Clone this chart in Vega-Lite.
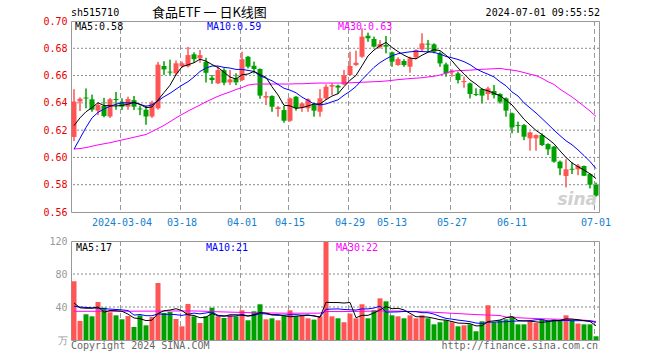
{
"$schema": "https://vega.github.io/schema/vega-lite/v6.json",
"background": "white",
"padding": {"left": 40, "top": 6, "right": 10, "bottom": 4},
"spacing": 7,
"config": {"view": {"stroke": "#999999", "strokeWidth": 1}, "text": {"font": "DejaVu Sans Mono"}},
"datasets": {"k": [
{"d":"2024-02-21","o":0.615,"h":0.650,"l":0.612,"c":0.641,"v":71.2,"m5":0.6233,"m10":0.606,"m30":0.6062,"a5":44.9,"a10":41,"a30":34.8},
{"d":"2024-02-22","o":0.641,"h":0.644,"l":0.634,"c":0.643,"v":23.1,"m5":0.629,"m10":0.614,"m30":0.6065,"a5":39,"a10":40,"a30":34.8},
{"d":"2024-02-23","o":0.6439,"h":0.6505,"l":0.636,"c":0.6432,"v":31.2,"m5":0.6335,"m10":0.622,"m30":0.6072,"a5":38.5,"a10":39.5,"a30":34.8},
{"d":"2024-02-26","o":0.6426,"h":0.646,"l":0.6335,"c":0.635,"v":28.7,"m5":0.6365,"m10":0.629,"m30":0.6082,"a5":38.5,"a10":39,"a30":34.8},
{"d":"2024-02-27","o":0.6343,"h":0.6397,"l":0.631,"c":0.6384,"v":46.1,"m5":0.6401,"m10":0.633,"m30":0.6092,"a5":40.1,"a10":38.5,"a30":34.8},
{"d":"2024-02-28","o":0.6377,"h":0.6436,"l":0.6294,"c":0.6304,"v":39.2,"m5":0.638,"m10":0.6355,"m30":0.610,"a5":33.7,"a10":38,"a30":34.8},
{"d":"2024-02-29","o":0.630,"h":0.6435,"l":0.629,"c":0.6426,"v":33.6,"m5":0.6379,"m10":0.6375,"m30":0.6108,"a5":35.8,"a10":37.5,"a30":34.8},
{"d":"2024-03-01","o":0.6428,"h":0.648,"l":0.635,"c":0.642,"v":29.9,"m5":0.6377,"m10":0.639,"m30":0.6118,"a5":35.5,"a10":37,"a30":34.8},
{"d":"2024-03-04","o":0.6408,"h":0.6433,"l":0.6348,"c":0.6372,"v":25.1,"m5":0.6381,"m10":0.640,"m30":0.6128,"a5":34.8,"a10":36.5,"a30":34.8},
{"d":"2024-03-05","o":0.6372,"h":0.6445,"l":0.635,"c":0.6428,"v":29,"m5":0.639,"m10":0.640,"m30":0.6138,"a5":31.4,"a10":35.7,"a30":34.9},
{"d":"2024-03-06","o":0.642,"h":0.645,"l":0.6348,"c":0.6372,"v":15.8,"m5":0.6404,"m10":0.640,"m30":0.6148,"a5":26.7,"a10":30.2,"a30":34.9},
{"d":"2024-03-07","o":0.6359,"h":0.638,"l":0.631,"c":0.6352,"v":29.9,"m5":0.6389,"m10":0.639,"m30":0.6158,"a5":25.9,"a10":30.9,"a30":35},
{"d":"2024-03-08","o":0.635,"h":0.638,"l":0.624,"c":0.630,"v":17.8,"m5":0.6365,"m10":0.6375,"m30":0.6168,"a5":23.5,"a10":29.5,"a30":35},
{"d":"2024-03-11","o":0.630,"h":0.6415,"l":0.629,"c":0.640,"v":27.9,"m5":0.637,"m10":0.6385,"m30":0.619,"a5":24.1,"a10":29.4,"a30":35},
{"d":"2024-03-12","o":0.636,"h":0.670,"l":0.635,"c":0.668,"v":69.1,"m5":0.6421,"m10":0.6415,"m30":0.6212,"a5":32.1,"a10":31.7,"a30":35.1},
{"d":"2024-03-13","o":0.667,"h":0.6705,"l":0.6605,"c":0.6645,"v":32.8,"m5":0.6475,"m10":0.6445,"m30":0.6235,"a5":35.5,"a10":31.1,"a30":35.1},
{"d":"2024-03-14","o":0.6629,"h":0.6716,"l":0.6605,"c":0.6622,"v":34,"m5":0.6529,"m10":0.647,"m30":0.6262,"a5":36.3,"a10":31.1,"a30":35.2},
{"d":"2024-03-15","o":0.6616,"h":0.671,"l":0.660,"c":0.669,"v":25.5,"m5":0.6607,"m10":0.650,"m30":0.629,"a5":37.9,"a10":30.7,"a30":35.2},
{"d":"2024-03-18","o":0.6668,"h":0.6702,"l":0.6655,"c":0.669,"v":16.6,"m5":0.6665,"m10":0.653,"m30":0.6315,"a5":35.6,"a10":29.8,"a30":35.2},
{"d":"2024-03-19","o":0.6668,"h":0.681,"l":0.666,"c":0.675,"v":43.7,"m5":0.6679,"m10":0.6555,"m30":0.634,"a5":30.5,"a10":31.3,"a30":35.2},
{"d":"2024-03-20","o":0.6756,"h":0.677,"l":0.6697,"c":0.672,"v":28.7,"m5":0.6694,"m10":0.659,"m30":0.6362,"a5":29.7,"a10":32.6,"a30":35.2},
{"d":"2024-03-21","o":0.6726,"h":0.6787,"l":0.6695,"c":0.675,"v":20.7,"m5":0.672,"m10":0.663,"m30":0.6384,"a5":27,"a10":31.7,"a30":35},
{"d":"2024-03-22","o":0.670,"h":0.673,"l":0.655,"c":0.662,"v":28.7,"m5":0.6706,"m10":0.6655,"m30":0.6408,"a5":27.7,"a10":32.8,"a30":34.8},
{"d":"2024-03-25","o":0.6584,"h":0.6604,"l":0.654,"c":0.6567,"v":39.2,"m5":0.6681,"m10":0.667,"m30":0.6428,"a5":32.2,"a10":33.9,"a30":34.5},
{"d":"2024-03-26","o":0.6543,"h":0.6665,"l":0.6538,"c":0.664,"v":28.7,"m5":0.6659,"m10":0.667,"m30":0.6448,"a5":29.2,"a10":29.9,"a30":34.2},
{"d":"2024-03-27","o":0.664,"h":0.6653,"l":0.653,"c":0.6548,"v":26.7,"m5":0.6625,"m10":0.666,"m30":0.6465,"a5":28.8,"a10":29.3,"a30":34},
{"d":"2024-03-28","o":0.655,"h":0.6641,"l":0.6531,"c":0.6572,"v":29.9,"m5":0.6589,"m10":0.6655,"m30":0.648,"a5":30.6,"a10":28.8,"a30":33.8},
{"d":"2024-03-29","o":0.658,"h":0.6616,"l":0.653,"c":0.655,"v":28.7,"m5":0.6575,"m10":0.6645,"m30":0.6498,"a5":30.6,"a10":29.2,"a30":33.6},
{"d":"2024-04-01","o":0.6567,"h":0.6775,"l":0.656,"c":0.672,"v":36,"m5":0.6606,"m10":0.6645,"m30":0.6512,"a5":30,"a10":31.1,"a30":33.4},
{"d":"2024-04-02","o":0.6738,"h":0.6743,"l":0.6653,"c":0.6665,"v":23.9,"m5":0.6611,"m10":0.6638,"m30":0.653,"a5":29,"a10":29.1,"a30":33.2},
{"d":"2024-04-03","o":0.6672,"h":0.6702,"l":0.6616,"c":0.6648,"v":34.8,"m5":0.6631,"m10":0.663,"m30":0.6537,"a5":30.7,"a10":29.7,"a30":33},
{"d":"2024-04-08","o":0.6648,"h":0.6652,"l":0.643,"c":0.6453,"v":43.3,"m5":0.6607,"m10":0.6598,"m30":0.6538,"a5":33.3,"a10":32,"a30":32.9},
{"d":"2024-04-09","o":0.6438,"h":0.6482,"l":0.6384,"c":0.645,"v":25.1,"m5":0.6587,"m10":0.6581,"m30":0.6538,"a5":32.6,"a10":31.6,"a30":32.8},
{"d":"2024-04-10","o":0.645,"h":0.6455,"l":0.6335,"c":0.6372,"v":26.3,"m5":0.6518,"m10":0.6562,"m30":0.6538,"a5":30.7,"a10":30.3,"a30":32.7},
{"d":"2024-04-11","o":0.6355,"h":0.6377,"l":0.6299,"c":0.6367,"v":23.9,"m5":0.6458,"m10":0.6535,"m30":0.6538,"a5":30.7,"a10":29.9,"a30":32.6},
{"d":"2024-04-12","o":0.6347,"h":0.6377,"l":0.6255,"c":0.6269,"v":29.1,"m5":0.6382,"m10":0.6507,"m30":0.6538,"a5":29.5,"a10":30.1,"a30":32.5},
{"d":"2024-04-15","o":0.6269,"h":0.6438,"l":0.6262,"c":0.6433,"v":36,"m5":0.6378,"m10":0.6493,"m30":0.6538,"a5":28.1,"a10":30.7,"a30":32.5},
{"d":"2024-04-16","o":0.6445,"h":0.645,"l":0.6343,"c":0.636,"v":28.7,"m5":0.636,"m10":0.6474,"m30":0.654,"a5":28.8,"a10":30.7,"a30":32.5},
{"d":"2024-04-17","o":0.6364,"h":0.640,"l":0.6335,"c":0.6396,"v":29.9,"m5":0.6365,"m10":0.6442,"m30":0.654,"a5":29.5,"a10":30.1,"a30":32.5},
{"d":"2024-04-18","o":0.636,"h":0.6433,"l":0.6335,"c":0.6426,"v":26.3,"m5":0.6377,"m10":0.6418,"m30":0.6542,"a5":30,"a10":30.3,"a30":32.5},
{"d":"2024-04-19","o":0.6384,"h":0.6396,"l":0.6299,"c":0.6343,"v":24.7,"m5":0.6392,"m10":0.6392,"m30":0.6544,"a5":29.1,"a10":29.3,"a30":32.5},
{"d":"2024-04-22","o":0.6335,"h":0.650,"l":0.6299,"c":0.6433,"v":28.7,"m5":0.6392,"m10":0.6385,"m30":0.6545,"a5":27.7,"a10":27.9,"a30":32.6},
{"d":"2024-04-23","o":0.6433,"h":0.6535,"l":0.6421,"c":0.6518,"v":118.8,"m5":0.6423,"m10":0.6392,"m30":0.6545,"a5":45.7,"a10":37.2,"a30":34.5},
{"d":"2024-04-24","o":0.6519,"h":0.6543,"l":0.6458,"c":0.653,"v":28.7,"m5":0.645,"m10":0.6408,"m30":0.6545,"a5":45.4,"a10":37.5,"a30":34.5},
{"d":"2024-04-25","o":0.6526,"h":0.6533,"l":0.6465,"c":0.6512,"v":26.3,"m5":0.6467,"m10":0.6422,"m30":0.6545,"a5":45.4,"a10":37.7,"a30":34.5},
{"d":"2024-04-26","o":0.6535,"h":0.6641,"l":0.653,"c":0.66,"v":21.5,"m5":0.6519,"m10":0.6456,"m30":0.6546,"a5":44.8,"a10":37,"a30":34.5},
{"d":"2024-04-29","o":0.6604,"h":0.6775,"l":0.660,"c":0.667,"v":32,"m5":0.6566,"m10":0.6485,"m30":0.6547,"a5":45.5,"a10":36.6,"a30":34.6},
{"d":"2024-04-30","o":0.6677,"h":0.6782,"l":0.6672,"c":0.6694,"v":26.3,"m5":0.6601,"m10":0.652,"m30":0.6549,"a5":27,"a10":36.3,"a30":34.7},
{"d":"2024-05-06","o":0.6738,"h":0.6946,"l":0.6731,"c":0.6885,"v":43.3,"m5":0.6672,"m10":0.657,"m30":0.6551,"a5":29.9,"a10":37.7,"a30":34.8},
{"d":"2024-05-07","o":0.6892,"h":0.6914,"l":0.6848,"c":0.6873,"v":26.3,"m5":0.6744,"m10":0.6615,"m30":0.6553,"a5":29.9,"a10":37.7,"a30":34.9},
{"d":"2024-05-08","o":0.6868,"h":0.6885,"l":0.6807,"c":0.6812,"v":36,"m5":0.6787,"m10":0.666,"m30":0.6555,"a5":32.8,"a10":38.8,"a30":35},
{"d":"2024-05-09","o":0.6807,"h":0.686,"l":0.680,"c":0.6831,"v":50.5,"m5":0.6819,"m10":0.6695,"m30":0.6557,"a5":36.5,"a10":41,"a30":35.1},
{"d":"2024-05-10","o":0.6824,"h":0.689,"l":0.6763,"c":0.6812,"v":46.9,"m5":0.6843,"m10":0.6722,"m30":0.656,"a5":40.6,"a10":33.8,"a30":35.2},
{"d":"2024-05-13","o":0.677,"h":0.6775,"l":0.6665,"c":0.6702,"v":29.9,"m5":0.6806,"m10":0.6745,"m30":0.6565,"a5":37.9,"a10":33.9,"a30":35.1},
{"d":"2024-05-14","o":0.6677,"h":0.6733,"l":0.6672,"c":0.6721,"v":28.7,"m5":0.6776,"m10":0.676,"m30":0.657,"a5":38.4,"a10":34.1,"a30":35},
{"d":"2024-05-15","o":0.6707,"h":0.6719,"l":0.6665,"c":0.6677,"v":26.3,"m5":0.6749,"m10":0.6768,"m30":0.6574,"a5":36.5,"a10":34.6,"a30":34.8},
{"d":"2024-05-16","o":0.6665,"h":0.6738,"l":0.6621,"c":0.6726,"v":29.9,"m5":0.6728,"m10":0.6774,"m30":0.6578,"a5":32.3,"a10":34.4,"a30":34.6},
{"d":"2024-05-17","o":0.6733,"h":0.6792,"l":0.6719,"c":0.6787,"v":26.3,"m5":0.6723,"m10":0.6778,"m30":0.6581,"a5":28.2,"a10":34.4,"a30":34.4},
{"d":"2024-05-20","o":0.6792,"h":0.6909,"l":0.6775,"c":0.6836,"v":29.9,"m5":0.6749,"m10":0.6776,"m30":0.6584,"a5":28.2,"a10":33.1,"a30":34.2},
{"d":"2024-05-21","o":0.6834,"h":0.686,"l":0.6775,"c":0.6827,"v":26.3,"m5":0.6771,"m10":0.6774,"m30":0.659,"a5":27.7,"a10":33.1,"a30":34},
{"d":"2024-05-22","o":0.6829,"h":0.6836,"l":0.6763,"c":0.6775,"v":19,"m5":0.679,"m10":0.677,"m30":0.6595,"a5":26.3,"a10":31.4,"a30":33.6},
{"d":"2024-05-23","o":0.6763,"h":0.6775,"l":0.6665,"c":0.6689,"v":21.5,"m5":0.6783,"m10":0.6758,"m30":0.6604,"a5":24.6,"a10":28.5,"a30":33.2},
{"d":"2024-05-24","o":0.6682,"h":0.6694,"l":0.6592,"c":0.6616,"v":23.9,"m5":0.6749,"m10":0.674,"m30":0.6618,"a5":24.1,"a10":26.2,"a30":32.8},
{"d":"2024-05-27","o":0.6623,"h":0.6645,"l":0.6592,"c":0.6633,"v":21.5,"m5":0.6708,"m10":0.673,"m30":0.6632,"a5":22.4,"a10":25.3,"a30":32.4},
{"d":"2024-05-28","o":0.6616,"h":0.6628,"l":0.6543,"c":0.6567,"v":16.6,"m5":0.6656,"m10":0.6718,"m30":0.6636,"a5":20.5,"a10":24.1,"a30":32},
{"d":"2024-05-29","o":0.6552,"h":0.6592,"l":0.6511,"c":0.656,"v":17.8,"m5":0.6613,"m10":0.6702,"m30":0.6638,"a5":20.3,"a10":23.3,"a30":31.6},
{"d":"2024-05-30","o":0.6543,"h":0.6548,"l":0.6433,"c":0.6465,"v":19,"m5":0.6568,"m10":0.668,"m30":0.664,"a5":19.8,"a10":22.2,"a30":31.2},
{"d":"2024-05-31","o":0.6465,"h":0.6506,"l":0.645,"c":0.6458,"v":10.6,"m5":0.6537,"m10":0.665,"m30":0.6643,"a5":17.1,"a10":20.6,"a30":30.8},
{"d":"2024-06-03","o":0.6501,"h":0.6506,"l":0.6396,"c":0.6453,"v":22.7,"m5":0.6501,"m10":0.6628,"m30":0.6646,"a5":17.3,"a10":19.9,"a30":30.5},
{"d":"2024-06-04","o":0.6465,"h":0.6518,"l":0.6421,"c":0.6506,"v":42.1,"m5":0.6488,"m10":0.661,"m30":0.6648,"a5":22.4,"a10":21.5,"a30":30.2},
{"d":"2024-06-05","o":0.6487,"h":0.6531,"l":0.6433,"c":0.6457,"v":21.5,"m5":0.647,"m10":0.659,"m30":0.665,"a5":23.2,"a10":21.7,"a30":30},
{"d":"2024-06-06","o":0.6465,"h":0.647,"l":0.6396,"c":0.6408,"v":23.9,"m5":0.6453,"m10":0.6555,"m30":0.6653,"a5":24.2,"a10":22,"a30":29.6},
{"d":"2024-06-07","o":0.6433,"h":0.644,"l":0.6299,"c":0.6343,"v":25.1,"m5":0.642,"m10":0.6525,"m30":0.6645,"a5":27.1,"a10":22.1,"a30":27.8},
{"d":"2024-06-11","o":0.6323,"h":0.6328,"l":0.6177,"c":0.622,"v":28.7,"m5":0.6385,"m10":0.648,"m30":0.664,"a5":28.3,"a10":22.8,"a30":27.4},
{"d":"2024-06-12","o":0.6238,"h":0.6262,"l":0.6181,"c":0.6231,"v":19,"m5":0.6333,"m10":0.645,"m30":0.6633,"a5":23.6,"a10":23,"a30":27},
{"d":"2024-06-13","o":0.6237,"h":0.6245,"l":0.6127,"c":0.6152,"v":19,"m5":0.628,"m10":0.640,"m30":0.6622,"a5":23.1,"a10":23.2,"a30":26.6},
{"d":"2024-06-14","o":0.614,"h":0.6189,"l":0.605,"c":0.6184,"v":22.7,"m5":0.6238,"m10":0.6363,"m30":0.661,"a5":22.9,"a10":23.5,"a30":26.3},
{"d":"2024-06-17","o":0.614,"h":0.6168,"l":0.605,"c":0.6164,"v":20.7,"m5":0.6198,"m10":0.6326,"m30":0.660,"a5":22,"a10":24.5,"a30":26},
{"d":"2024-06-18","o":0.6164,"h":0.6176,"l":0.6084,"c":0.6091,"v":25.1,"m5":0.6167,"m10":0.6285,"m30":0.658,"a5":21.3,"a10":24.8,"a30":25.7},
{"d":"2024-06-19","o":0.6098,"h":0.6103,"l":0.6018,"c":0.6059,"v":23.9,"m5":0.6135,"m10":0.6243,"m30":0.6555,"a5":22.3,"a10":23,"a30":25.5},
{"d":"2024-06-20","o":0.6079,"h":0.6084,"l":0.5962,"c":0.5969,"v":25.1,"m5":0.610,"m10":0.620,"m30":0.6535,"a5":23.5,"a10":23.3,"a30":25.3},
{"d":"2024-06-21","o":0.5969,"h":0.5976,"l":0.587,"c":0.592,"v":23.9,"m5":0.6048,"m10":0.616,"m30":0.650,"a5":23.7,"a10":23.3,"a30":25.1},
{"d":"2024-06-24","o":0.5864,"h":0.5986,"l":0.5781,"c":0.5913,"v":29.9,"m5":0.600,"m10":0.6122,"m30":0.6472,"a5":25.6,"a10":23.8,"a30":24.9},
{"d":"2024-06-25","o":0.5917,"h":0.5962,"l":0.5878,"c":0.591,"v":24,"m5":0.596,"m10":0.6093,"m30":0.6443,"a5":25.4,"a10":23.3,"a30":24.7},
{"d":"2024-06-26","o":0.5913,"h":0.5952,"l":0.587,"c":0.594,"v":20,"m5":0.5932,"m10":0.6055,"m30":0.641,"a5":24.6,"a10":23.4,"a30":24.4},
{"d":"2024-06-27","o":0.5937,"h":0.594,"l":0.5864,"c":0.5866,"v":19,"m5":0.5908,"m10":0.6014,"m30":0.6375,"a5":23.4,"a10":23.4,"a30":24},
{"d":"2024-06-28","o":0.5878,"h":0.5883,"l":0.5773,"c":0.580,"v":19,"m5":0.588,"m10":0.597,"m30":0.634,"a5":22.4,"a10":23.1,"a30":23.5},
{"d":"2024-07-01","o":0.5798,"h":0.5815,"l":0.5712,"c":0.572,"v":4.5,"m5":0.5845,"m10":0.5918,"m30":0.630,"a5":17.3,"a10":21.4,"a30":22.5}
],
"gd": [{"d":"2024-03-04"},{"d":"2024-03-18"},{"d":"2024-04-01"},{"d":"2024-04-15"},{"d":"2024-04-29"},{"d":"2024-05-13"},{"d":"2024-05-27"},{"d":"2024-06-11"},{"d":"2024-07-01"}]
},
"vconcat": [
{
"width": 528, "height": 191,
"resolve": {"axis": {"x": "independent", "y": "independent"}},
"layer": [
{"data": {"name": "k"}, "mark": {"type": "rule", "strokeWidth": 1},
 "encoding": {
  "x": {"field": "d", "type": "ordinal", "scale": {"type": "band", "paddingInner": 0, "paddingOuter": 0},
        "axis": {"values": ["2024-03-04","2024-03-18","2024-04-01","2024-04-15","2024-04-29","2024-05-13","2024-05-27","2024-06-11","2024-07-01"],
                 "labelExpr": "datum.value == '2024-03-04' ? datum.value : substring(datum.value, 5)",
                 "labelAngle": 0, "labelAlign": "center", "labelBaseline": "top", "labelColor": "#1480d0", "labelFont": "DejaVu Sans Mono", "labelFontSize": 10,
                 "labelPadding": 5, "labelOverlap": false, "ticks": false, "domain": false, "grid": false,
                 "title": null, "bandPosition": 0.25}},
  "y": {"field": "l", "type": "quantitative", "scale": {"domain": [0.56, 0.70], "zero": false, "nice": false},
        "axis": {"values": [0.56,0.58,0.60,0.62,0.64,0.66,0.68,0.70], "format": ".2f", "labelColor": "#e60000", "labelFont": "DejaVu Sans Mono", "labelFontSize": 10,
                 "labelPadding": 4, "labelOverlap": false, "ticks": false, "domain": false, "grid": false, "title": null, "minExtent": 30}},
  "y2": {"field": "h"},
  "color": {"condition": {"test": "datum.c >= datum.o", "value": "#ff5555"}, "value": "#00a000"}
 }},
{"data": {"values": [{"g": 0.58}, {"g": 0.60}, {"g": 0.62}, {"g": 0.64}, {"g": 0.66}, {"g": 0.68}]},
 "mark": {"type": "rule", "color": "#8a8a8a", "strokeWidth": 1, "strokeDash": [2, 2]},
 "encoding": {"y": {"field": "g", "type": "quantitative", "axis": null}}},
{"data": {"name": "gd"},
 "mark": {"type": "rule", "color": "#999999", "strokeWidth": 1, "strokeDash": [5, 3]},
 "encoding": {"x": {"field": "d", "type": "ordinal", "bandPosition": 0.25, "axis": null}}},
{"data": {"name": "k"}, "mark": {"type": "bar", "width": 5},
 "encoding": {
  "x": {"field": "d", "type": "ordinal", "axis": null},
  "y": {"field": "o", "type": "quantitative", "axis": null},
  "y2": {"field": "c"},
  "color": {"condition": {"test": "datum.c >= datum.o", "value": "#ff5555"}, "value": "#00a000"}
 }},
{"data": {"name": "k"}, "mark": {"type": "rule", "strokeWidth": 1},
 "encoding": {
  "x": {"field": "d", "type": "ordinal", "axis": null},
  "y": {"field": "l", "type": "quantitative", "axis": null},
  "y2": {"field": "h"},
  "color": {"condition": {"test": "datum.c >= datum.o", "value": "#ff5555"}, "value": "#00a000"}
 }},
{"data": {"name": "k"}, "mark": {"type": "line", "color": "#ff00ff", "strokeWidth": 1},
 "encoding": {"x": {"field": "d", "type": "ordinal", "axis": null}, "y": {"field": "m30", "type": "quantitative", "axis": null}}},
{"data": {"name": "k"}, "mark": {"type": "line", "color": "#0000ff", "strokeWidth": 1},
 "encoding": {"x": {"field": "d", "type": "ordinal", "axis": null}, "y": {"field": "m10", "type": "quantitative", "axis": null}}},
{"data": {"name": "k"}, "mark": {"type": "line", "color": "#000000", "strokeWidth": 1},
 "encoding": {"x": {"field": "d", "type": "ordinal", "axis": null}, "y": {"field": "m5", "type": "quantitative", "axis": null}}},
{"data": {"values": [{"d": "2024-07-01", "t": "sina"}]},
 "mark": {"type": "text", "align": "right", "baseline": "bottom", "font": "DejaVu Sans", "fontSize": 17, "fontStyle": "italic", "fontWeight": "bold", "color": "#d0d0d0", "dx": 1},
 "encoding": {"x": {"field": "d", "type": "ordinal", "axis": null}, "y": {"datum": 0.5625, "type": "quantitative", "axis": null}, "text": {"field": "t"}}},
{"data": {"values": [{"d": "2024-02-21", "t": "MA5:0.58"}]},
 "mark": {"type": "text", "align": "left", "baseline": "top", "font": "DejaVu Sans Mono", "fontSize": 10, "color": "#000000", "dx": 1, "dy": 1},
 "encoding": {"x": {"field": "d", "type": "ordinal", "axis": null}, "y": {"datum": 0.70, "type": "quantitative", "axis": null}, "text": {"field": "t"}}},
{"data": {"values": [{"d": "2024-03-22", "t": "MA10:0.59"}]},
 "mark": {"type": "text", "align": "left", "baseline": "top", "font": "DejaVu Sans Mono", "fontSize": 10, "color": "#0000ff", "dx": 1, "dy": 1},
 "encoding": {"x": {"field": "d", "type": "ordinal", "axis": null}, "y": {"datum": 0.70, "type": "quantitative", "axis": null}, "text": {"field": "t"}}},
{"data": {"values": [{"d": "2024-04-25", "t": "MA30:0.63"}]},
 "mark": {"type": "text", "align": "left", "baseline": "top", "font": "DejaVu Sans Mono", "fontSize": 10, "color": "#ff00ff", "dx": 0, "dy": 1},
 "encoding": {"x": {"field": "d", "type": "ordinal", "axis": null}, "y": {"datum": 0.70, "type": "quantitative", "axis": null}, "text": {"field": "t"}}},
{"data": {"values": [{"d": "2024-02-21", "t": "sh515710"}]},
 "mark": {"type": "text", "align": "left", "baseline": "middle", "font": "DejaVu Sans Mono", "fontSize": 10, "color": "#000000", "dx": -3, "dy": -8},
 "encoding": {"x": {"field": "d", "type": "ordinal", "axis": null}, "y": {"datum": 0.70, "type": "quantitative", "axis": null}, "text": {"field": "t"}}},
{"data": {"values": [{"d": "2024-03-11", "t": "食品ETF 一 日K线图"}]},
 "mark": {"type": "text", "align": "left", "baseline": "middle", "font": "Noto Sans CJK SC", "fontSize": 13, "color": "#000000", "dy": -8},
 "encoding": {"x": {"field": "d", "type": "ordinal", "axis": null}, "y": {"datum": 0.70, "type": "quantitative", "axis": null}, "text": {"field": "t"}}},
{"data": {"values": [{"d": "2024-07-01", "t": "2024-07-01 09:55:52"}]},
 "mark": {"type": "text", "align": "right", "baseline": "middle", "font": "DejaVu Sans Mono", "fontSize": 10, "color": "#000000", "dx": 4, "dy": -8},
 "encoding": {"x": {"field": "d", "type": "ordinal", "axis": null}, "y": {"datum": 0.70, "type": "quantitative", "axis": null}, "text": {"field": "t"}}}
]
},
{
"width": 528, "height": 99,
"resolve": {"axis": {"x": "independent", "y": "independent"}},
"layer": [
{"data": {"values": [{"g": 40}, {"g": 80}]},
 "mark": {"type": "rule", "color": "#8a8a8a", "strokeWidth": 1, "strokeDash": [2, 2]},
 "encoding": {"y": {"field": "g", "type": "quantitative", "scale": {"domain": [0, 120], "nice": false},
   "axis": {"values": [0, 40, 80, 120], "labelExpr": "datum.value == 0 ? '万' : datum.label", "labelColor": "#999999", "labelFont": "DejaVu Sans Mono", "labelFontSize": 10,
            "labelPadding": 4, "labelOverlap": false, "ticks": false, "domain": false, "grid": false, "title": null, "minExtent": 30}}}},
{"data": {"name": "gd"},
 "mark": {"type": "rule", "color": "#999999", "strokeWidth": 1, "strokeDash": [5, 3]},
 "encoding": {"x": {"field": "d", "type": "ordinal", "bandPosition": 0.25, "axis": null}}},
{"data": {"name": "k"}, "mark": {"type": "bar", "width": 5},
 "encoding": {
  "x": {"field": "d", "type": "ordinal", "scale": {"type": "band", "paddingInner": 0, "paddingOuter": 0}, "axis": null},
  "y": {"field": "v", "type": "quantitative", "axis": null},
  "color": {"condition": {"test": "datum.c >= datum.o", "value": "#ff5555"}, "value": "#00a000"}
 }},
{"data": {"name": "k"}, "mark": {"type": "line", "color": "#ff00ff", "strokeWidth": 1},
 "encoding": {"x": {"field": "d", "type": "ordinal", "axis": null}, "y": {"field": "a30", "type": "quantitative", "axis": null}}},
{"data": {"name": "k"}, "mark": {"type": "line", "color": "#0000ff", "strokeWidth": 1},
 "encoding": {"x": {"field": "d", "type": "ordinal", "axis": null}, "y": {"field": "a10", "type": "quantitative", "axis": null}}},
{"data": {"name": "k"}, "mark": {"type": "line", "color": "#000000", "strokeWidth": 1},
 "encoding": {"x": {"field": "d", "type": "ordinal", "axis": null}, "y": {"field": "a5", "type": "quantitative", "axis": null}}},
{"data": {"values": [{"d": "2024-02-21", "t": "MA5:17"}]},
 "mark": {"type": "text", "align": "left", "baseline": "top", "font": "DejaVu Sans Mono", "fontSize": 10, "color": "#000000", "dx": 2, "dy": 2},
 "encoding": {"x": {"field": "d", "type": "ordinal", "axis": null}, "y": {"datum": 120, "type": "quantitative", "axis": null}, "text": {"field": "t"}}},
{"data": {"values": [{"d": "2024-03-22", "t": "MA10:21"}]},
 "mark": {"type": "text", "align": "left", "baseline": "top", "font": "DejaVu Sans Mono", "fontSize": 10, "color": "#0000ff", "dx": 0, "dy": 2},
 "encoding": {"x": {"field": "d", "type": "ordinal", "axis": null}, "y": {"datum": 120, "type": "quantitative", "axis": null}, "text": {"field": "t"}}},
{"data": {"values": [{"d": "2024-04-25", "t": "MA30:22"}]},
 "mark": {"type": "text", "align": "left", "baseline": "top", "font": "DejaVu Sans Mono", "fontSize": 10, "color": "#ff00ff", "dx": -2, "dy": 2},
 "encoding": {"x": {"field": "d", "type": "ordinal", "axis": null}, "y": {"datum": 120, "type": "quantitative", "axis": null}, "text": {"field": "t"}}},
{"data": {"values": [{"d": "2024-02-21", "t": "Copyright 2024 SINA.COM"}]},
 "mark": {"type": "text", "align": "left", "baseline": "top", "font": "DejaVu Sans Mono", "fontSize": 10, "color": "#666666", "dx": -3, "dy": 1},
 "encoding": {"x": {"field": "d", "type": "ordinal", "axis": null}, "y": {"datum": 0, "type": "quantitative", "axis": null}, "text": {"field": "t"}}},
{"data": {"values": [{"d": "2024-07-01", "t": "http://finance.sina.com.cn"}]},
 "mark": {"type": "text", "align": "right", "baseline": "top", "font": "DejaVu Sans Mono", "fontSize": 10, "color": "#666666", "dx": 2, "dy": 1},
 "encoding": {"x": {"field": "d", "type": "ordinal", "axis": null}, "y": {"datum": 0, "type": "quantitative", "axis": null}, "text": {"field": "t"}}}
]
}
]
}
